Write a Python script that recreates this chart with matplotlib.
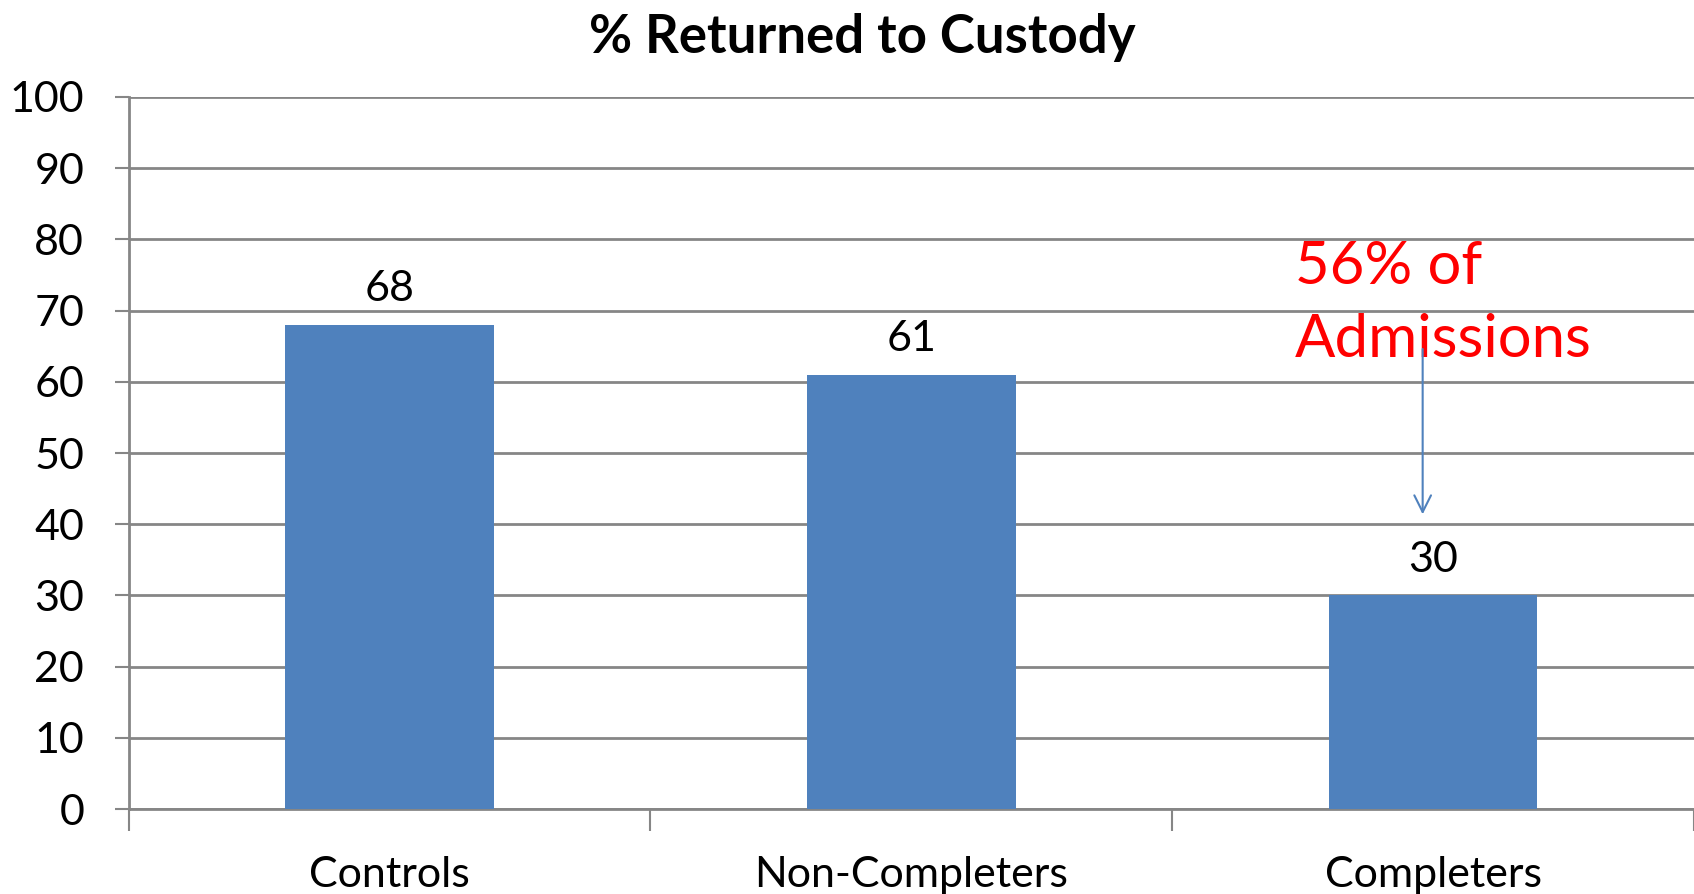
import matplotlib.pyplot as plt

plt.rcParams['font.family'] = ['Lato', 'DejaVu Sans']

groups = ['Controls', 'Non-Completers', 'Completers']
returned = [68, 61, 30]
yticks = [0, 10, 20, 30, 40, 50, 60, 70, 80, 90, 100]

fig = plt.figure(figsize=(16.94, 8.94), dpi=100)
ax = fig.add_axes([0.0759, 0.095, 0.9241, 0.7965])

ax.bar(range(len(groups)), returned, width=0.4, color='#4F81BD', zorder=3)
for i, v in enumerate(returned):
    ax.text(i, v + 2.3, str(v), ha='center', va='bottom', fontsize=31)

ax.set_xlim(-0.5, 2.5)
ax.set_ylim(0, 100)
ax.set_yticks(yticks)
ax.set_yticklabels([str(t) for t in yticks], fontsize=31)
ax.grid(axis='y', color='#868686', linewidth=2, zorder=0)

# category boundaries as x ticks, labels in the middle
ax.set_xticks([-0.5, 0.5, 1.5, 2.5])
ax.set_xticklabels([])
ax.set_xticks(range(len(groups)), minor=True)
ax.set_xticklabels(groups, minor=True, fontsize=31)
ax.tick_params(axis='x', which='minor', length=0, pad=34)
ax.tick_params(axis='x', which='major', length=16, width=1.5, color='#868686')
ax.tick_params(axis='y', length=10, width=1.5, color='#868686', pad=22)

for s in ['top', 'right']:
    ax.spines[s].set_visible(False)
ax.spines['left'].set_color('#868686')
ax.spines['left'].set_linewidth(2)
ax.spines['bottom'].set_color('#868686')
ax.spines['bottom'].set_linewidth(2)

ax.annotate('', xy=(1.98, 41), xytext=(1.98, 65),
            arrowprops=dict(arrowstyle='->', color='#4F81BD', lw=1.5,
                            mutation_scale=30), zorder=5)
ax.text(1.735, 71, '56% of\nAdmissions', color='red', fontsize=43,
        ha='left', va='center', linespacing=1.45, zorder=4)

fig.text(0.509, 0.958, '% Returned to Custody', ha='center', va='center',
         fontsize=38, fontweight='bold')

fig.savefig('out.png', dpi=100)
